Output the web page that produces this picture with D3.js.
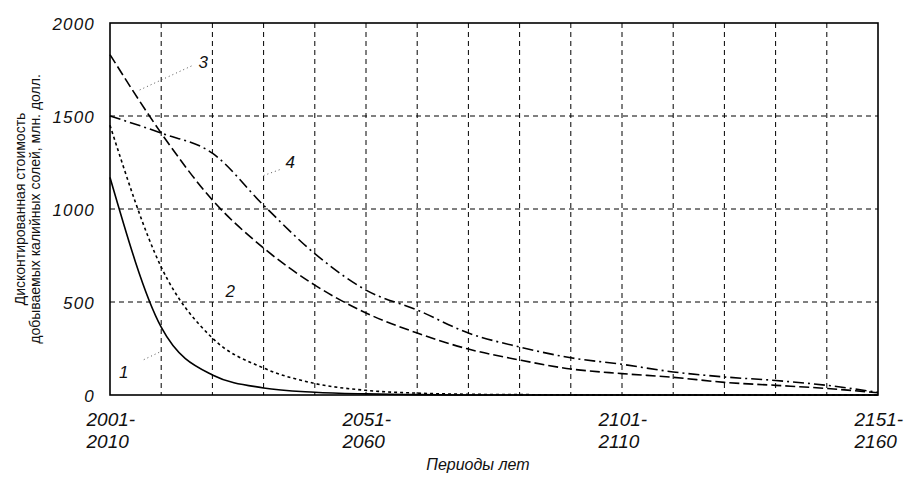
<!DOCTYPE html>
<html>
<head>
<meta charset="utf-8">
<script src="https://cdn.jsdelivr.net/npm/d3@7"></script>
<style>
	body { margin: 0; background: #fff; }
	text { font-family: "Liberation Sans", Arial, sans-serif; fill: #111; }
</style>
</head>
<body>
<div id="chart"></div>
<script>
// periods of ten years, one point per period
var periods = ["2001-2010", "2011-2020", "2021-2030", "2031-2040", "2041-2050", "2051-2060",
	"2061-2070", "2071-2080", "2081-2090", "2091-2100", "2101-2110", "2111-2120",
	"2121-2130", "2131-2140", "2141-2150", "2151-2160"];
var periodTicks = ["2001-2010", "2051-2060", "2101-2110", "2151-2160"];
var valueTicks = [0, 500, 1000, 1500, 2000];

var series1 = [1170, 365, 108, 38, 15, 6, 2, 0, 0, 0, 0, 0, 0, 0, 0, 0];
var series2 = [1450, 688, 306, 145, 62, 25, 10, 4, 2, 1, 0, 0, 0, 0, 0, 0];
var series3 = [1830, 1408, 1048, 790, 591, 441, 333, 247, 188, 140, 115, 95, 68, 52, 35, 12];
var series4 = [1500, 1408, 1300, 1020, 760, 564, 457, 333, 258, 200, 165, 124, 97, 78, 52, 14];

var seriesNames = ["1", "2", "3", "4"];

(function() {
	var WIDTH = 910, HEIGHT = 482;
	var margin = {top: 23, right: 32, bottom: 87, left: 110};

	var svg = d3.select("#chart").append("svg")
		.attr("width", WIDTH)
		.attr("height", HEIGHT);

	var x = d3.scalePoint()
		.domain(periods)
		.range([margin.left, WIDTH - margin.right]);

	var y = d3.scaleLinear()
		.domain([0, 2000])
		.range([HEIGHT - margin.bottom, margin.top]);

	var step = x.step();

	// dashed grid
	svg.append("g").selectAll("line")
		.data(periods.slice(1, -1))
		.enter().append("line")
		.attr("x1", function(d) { return x(d); })
		.attr("x2", function(d) { return x(d); })
		.attr("y1", y(2000))
		.attr("y2", y(0))
		.style("stroke", "#000")
		.style("stroke-width", 1)
		.style("stroke-dasharray", "5,4");

	svg.append("g").selectAll("line")
		.data(valueTicks.slice(1, -1))
		.enter().append("line")
		.attr("x1", x.range()[0])
		.attr("x2", x.range()[1])
		.attr("y1", function(d) { return y(d); })
		.attr("y2", function(d) { return y(d); })
		.style("stroke", "#000")
		.style("stroke-width", 1)
		.style("stroke-dasharray", "5,4");

	// frame
	svg.append("rect")
		.attr("x", x.range()[0])
		.attr("y", y(2000))
		.attr("width", x.range()[1] - x.range()[0])
		.attr("height", y(0) - y(2000))
		.style("fill", "none")
		.style("stroke", "#000")
		.style("stroke-width", 1.6);

	// y axis
	var yAxis = svg.append("g")
		.attr("transform", "translate(" + (margin.left - 15) + ",0)")
		.call(d3.axisLeft(y).tickValues(valueTicks).tickFormat(d3.format("d")).tickSize(0).tickPadding(0));
	yAxis.select(".domain").remove();
	yAxis.selectAll("text")
		.style("font-size", "17px")
		.style("font-style", "italic")
		.style("letter-spacing", "1.2px")
		.style("fill", "#111")
		.attr("dy", "0.38em");

	// x axis, labels split in two lines
	var xAxis = svg.append("g")
		.attr("transform", "translate(0," + y(0) + ")")
		.call(d3.axisBottom(x).tickValues(periodTicks).tickSize(0).tickPadding(0));
	xAxis.select(".domain").remove();
	xAxis.selectAll("text").each(function(d) {
		var parts = d.split("-");
		var t = d3.select(this)
			.text(null)
			.attr("y", 0)
			.attr("dy", null)
			.style("text-anchor", "start")
			.style("font-size", "19px")
			.style("font-style", "italic")
			.style("fill", "#111");
		t.append("tspan").attr("x", -24).attr("y", 31).text(parts[0] + "-");
		t.append("tspan").attr("x", -24).attr("y", 53).text(parts[1]);
	});

	svg.append("text")
		.attr("x", 478)
		.attr("y", 470)
		.style("text-anchor", "middle")
		.style("font-size", "16px")
		.style("font-style", "italic")
		.text("Периоды лет");

	// y title, two rotated lines
	var yTitle = svg.append("text")
		.attr("transform", "translate(0," + 209 + ") rotate(-90)")
		.style("text-anchor", "middle")
		.style("font-size", "14px");
	yTitle.append("tspan").attr("x", 0).attr("y", 25).text("Дисконтированная стоимость");
	yTitle.append("tspan").attr("x", 0).attr("y", 40).text("добываемых калийных солей, млн. долл.");

	// curves
	var allSeries = [series1, series2, series3, series4];
	var dashes = ["none", "3,3", "10,4", "11,4,2,4"];

	var line = d3.line()
		.curve(d3.curveMonotoneX)
		.x(function(d, i) { return x(periods[i]); })
		.y(function(d) { return y(d); });

	svg.append("g").selectAll("path")
		.data(allSeries)
		.enter().append("path")
		.attr("d", line)
		.style("fill", "none")
		.style("stroke", "#000")
		.style("stroke-width", 1.6)
		.style("stroke-dasharray", function(d, i) { return dashes[i]; });

	// curve numbers with dotted leaders, placed in (period index, value)
	var labelPos = [
		{tx: 0.27, ty: 125, lx1: 0.66, ly1: 190, lx2: 0.98, ly2: 232},
		{tx: 2.35, ty: 560},
		{tx: 1.82, ty: 1790, lx1: 0.58, ly1: 1640, lx2: 1.6, ly2: 1770},
		{tx: 3.52, ty: 1250, lx1: 3.0, ly1: 1180, lx2: 3.35, ly2: 1215}
	];

	function px(i) { return x.range()[0] + i * step; }

	labelPos.forEach(function(p, i) {
		if (p.lx1 !== undefined) {
			svg.append("line")
				.attr("x1", px(p.lx1)).attr("y1", y(p.ly1))
				.attr("x2", px(p.lx2)).attr("y2", y(p.ly2))
				.style("stroke", "#555")
				.style("stroke-width", 1)
				.style("stroke-dasharray", "1,3");
		}
		svg.append("text")
			.attr("x", px(p.tx))
			.attr("y", y(p.ty))
			.attr("dy", "0.35em")
			.style("text-anchor", "middle")
			.style("font-size", "17px")
			.style("font-style", "italic")
			.text(seriesNames[i]);
	});
}());
</script>
</body>
</html>
